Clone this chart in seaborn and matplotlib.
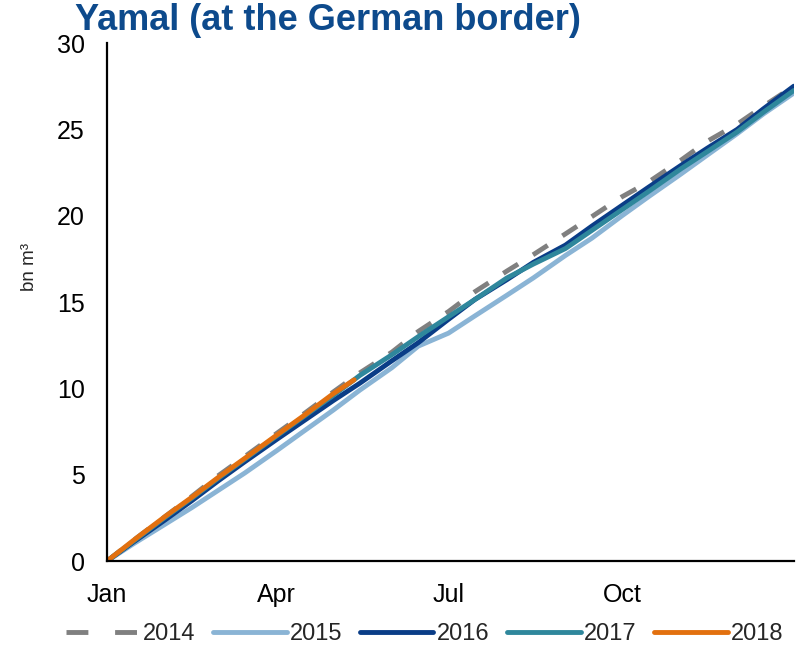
import matplotlib
matplotlib.use("Agg")
import matplotlib.pyplot as plt
import matplotlib.dates as mdates
import pandas as pd
import seaborn as sb

# day-of-year sample points (1st and mid-month)
days = [1, 15, 32, 46, 60, 74, 91, 105, 121, 135, 152, 166, 182, 196,
        213, 227, 244, 258, 274, 288, 305, 319, 335, 349, 365]

# cumulative flows, bn m3
y2014 = [0, 1.2, 2.6, 3.75, 4.95, 6.05, 7.4, 8.5, 9.8, 10.9, 12.1, 13.3, 14.45, 15.6,
         16.8, 17.75, 18.95, 19.95, 21.1, 21.95, 23.2, 24.3, 25.3, 26.35, 27.5]
y2015 = [0, 1.0, 2.15, 3.1, 4.1, 5.1, 6.4, 7.5, 8.75, 9.9, 11.2, 12.45, 13.2, 14.2,
         15.4, 16.4, 17.7, 18.7, 20.0, 21.1, 22.4, 23.5, 24.75, 25.9, 27.1]
y2016 = [0, 1.1, 2.4, 3.5, 4.65, 5.75, 7.05, 8.1, 9.3, 10.3, 11.6, 12.65, 14.0, 15.15,
         16.3, 17.3, 18.3, 19.4, 20.6, 21.65, 22.9, 23.9, 25.0, 26.2, 27.5]
y2017 = [0, 1.15, 2.55, 3.65, 4.8, 5.9, 7.25, 8.35, 9.6, 10.75, 11.95, 13.0, 14.15, 15.15,
         16.4, 17.2, 18.1, 19.15, 20.35, 21.4, 22.7, 23.7, 24.85, 26.0, 27.25]
days2018 = [1, 15, 32, 46, 60, 74, 91, 105, 121, 132]
y2018 = [0, 1.2, 2.6, 3.7, 4.85, 5.95, 7.3, 8.4, 9.7, 10.5]

years = ["2014", "2015", "2016", "2017", "2018"]
colors = {"2014": "#808080", "2015": "#8ab4d5", "2016": "#0a3d87",
          "2017": "#2f879c", "2018": "#e2700f"}

frames = []
for yr, d, v in [("2014", days, y2014), ("2015", days, y2015), ("2016", days, y2016),
                 ("2017", days, y2017), ("2018", days2018, y2018)]:
    frames.append(pd.DataFrame({"day": d, "value": v, "year": yr}))
df = pd.concat(frames, ignore_index=True)
df["date"] = pd.Timestamp("2018-01-01") + pd.to_timedelta(df["day"] - 1, unit="D")

sb.set_style("white")
plt.rcParams["font.family"] = ["Liberation Sans", "DejaVu Sans"]

lw = 3.5
dash = (3.6, 3.6)

fig = plt.figure(figsize=(8.08, 6.68), dpi=100)
ax = fig.add_axes([0.1324, 0.160, 0.850, 0.7756])

sb.lineplot(data=df, x="date", y="value", hue="year", hue_order=years,
            palette=colors, style="year", style_order=years,
            dashes={"2014": dash, "2015": "", "2016": "", "2017": "", "2018": ""},
            linewidth=lw, legend=False, ax=ax)

ax.set_xlim(pd.Timestamp("2018-01-01"), pd.Timestamp("2018-12-31"))
ax.set_ylim(0, 30)
ax.set_yticks([0, 5, 10, 15, 20, 25, 30])
ax.xaxis.set_major_locator(mdates.MonthLocator(bymonth=[1, 4, 7, 10]))
ax.xaxis.set_major_formatter(mdates.DateFormatter("%b"))
ax.tick_params(axis="both", length=0, labelsize=18, colors="black")
ax.tick_params(axis="y", pad=16)
ax.tick_params(axis="x", pad=16)

for s in ["top", "right"]:
    ax.spines[s].set_visible(False)
for s in ["left", "bottom"]:
    ax.spines[s].set_color("black")
    ax.spines[s].set_linewidth(1.6)

ax.set_xlabel("")
ax.set_ylabel("bn m³", fontsize=13.5)
ax.yaxis.set_label_coords(-0.1, 0.567)

fig.text(0.093, 0.955, "Yamal (at the German border)", fontsize=26, fontweight="bold",
         color="#0d4a8c", ha="left", va="baseline")

handles = []
for yr in years:
    ls = (0, (4.5, 5.5)) if yr == "2014" else "-"
    h, = ax.plot([], [], color=colors[yr], linewidth=lw, linestyle=ls, label=yr)
    handles.append(h)
fig.legend(handles=handles, loc="center", bbox_to_anchor=(0.526, 0.051), ncol=5,
           frameon=False, fontsize=17, handlelength=3.1, handletextpad=0.15,
           columnspacing=0.75)

fig.savefig("out.png", dpi=100)
